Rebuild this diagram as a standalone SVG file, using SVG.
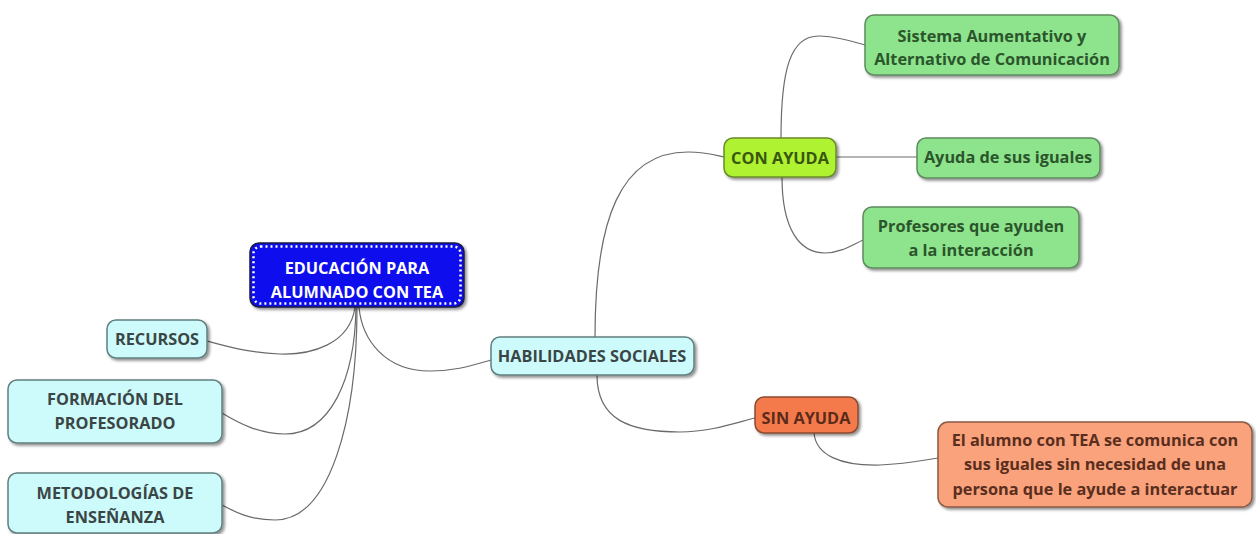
<svg xmlns="http://www.w3.org/2000/svg" width="1256" height="534" viewBox="0 0 1256 534">
<defs>
<filter id="sh" x="-10%" y="-20%" width="130%" height="150%">
<feGaussianBlur in="SourceAlpha" stdDeviation="1.5"/>
<feOffset dx="2" dy="2" result="b"/>
<feComponentTransfer><feFuncA type="linear" slope="0.45"/></feComponentTransfer>
<feMerge><feMergeNode/><feMergeNode in="SourceGraphic"/></feMerge>
</filter>
</defs>
<style>
text{font-family:"Open Sans","Noto Sans","Liberation Sans",sans-serif;font-weight:bold;font-size:16.3px;text-anchor:middle}
.box{stroke-width:1.5;filter:url(#sh)}
.cyan rect{fill:#cdfafa;stroke:#627f7f}
.cyan text{fill:#3a4646}
.green rect{fill:#8de48d;stroke:#5f8a5f}
.green text{fill:#2c552c}
.lime rect{fill:#aef230;stroke:#6a8a2a}
.lime text{fill:#3a560e}
.orange rect{fill:#f57a4c;stroke:#8a4a30}
.orange text{fill:#5a2b1b}
.peach rect{fill:#f9a27c;stroke:#8a5a44}
.peach text{fill:#5a2e1e}
.conn path{fill:none;stroke:#6a6a6a;stroke-width:1.2}
</style>
<rect width="1256" height="534" fill="#ffffff"/>
<g class="conn">
<path d="M355,307 C350,345 310,355 280,354 C250,353 225,346 207,341"/>
<path d="M356,307 C355,380 330,434 285,434 C260,434 240,424 222,413"/>
<path d="M357,307 C357,420 330,520 275,520 C250,520 235,512 222,505"/>
<path d="M359,307 C362,340 385,371 430,371 C455,371 470,366 491,360"/>
<path d="M595,337 C595,220 620,152 688,152 C705,152 715,155 724,157"/>
<path d="M597,375 C597,420 630,432 680,432 C710,432 735,423 755,418"/>
<path d="M781,138 C781,70 790,35 820,36 C840,37 855,42 865,45"/>
<path d="M836,157 L917,157"/>
<path d="M782,177 C782,230 800,253 825,253 C840,253 852,245 863,240"/>
<path d="M814,433 C816,455 840,466 880,465 C905,464 925,460 938,458"/>
</g>
<g id="central">
<rect x="250" y="243" width="214" height="64" rx="9" fill="#0a0aee" stroke="#1a1a40" stroke-width="1.5" filter="url(#sh)"/>
<rect x="253.5" y="246.5" width="207" height="57" rx="7" fill="none" stroke="#ffffff" stroke-width="2.5" stroke-dasharray="2 3"/>
<text x="357" y="274" fill="#ffffff">EDUCACIÓN PARA</text>
<text x="357" y="298" fill="#ffffff">ALUMNADO CON TEA</text>
</g>
<g id="recursos" class="cyan">
<rect class="box" x="107" y="320" width="100" height="38" rx="9"/>
<text x="157" y="345">RECURSOS</text>
</g>
<g id="formacion" class="cyan">
<rect class="box" x="8" y="380" width="214" height="63" rx="9"/>
<text x="115" y="405">FORMACIÓN DEL</text>
<text x="115" y="429">PROFESORADO</text>
</g>
<g id="metodologias" class="cyan">
<rect class="box" x="8" y="473" width="214" height="60" rx="9"/>
<text x="115" y="499">METODOLOGÍAS DE</text>
<text x="115" y="523">ENSEÑANZA</text>
</g>
<g id="habilidades" class="cyan">
<rect class="box" x="491" y="337" width="203" height="38" rx="9"/>
<text x="592" y="362">HABILIDADES SOCIALES</text>
</g>
<g id="con-ayuda" class="lime">
<rect class="box" x="724" y="138" width="112" height="39" rx="9"/>
<text x="780" y="164">CON AYUDA</text>
</g>
<g id="sistema" class="green">
<rect class="box" x="865" y="15" width="254" height="60" rx="9"/>
<text x="992" y="42">Sistema Aumentativo y</text>
<text x="992" y="65">Alternativo de Comunicación</text>
</g>
<g id="ayuda-iguales" class="green">
<rect class="box" x="917" y="138" width="183" height="40" rx="9"/>
<text x="1008" y="163">Ayuda de sus iguales</text>
</g>
<g id="profesores" class="green">
<rect class="box" x="863" y="207" width="216" height="61" rx="9"/>
<text x="971" y="232">Profesores que ayuden</text>
<text x="971" y="256">a la interacción</text>
</g>
<g id="sin-ayuda" class="orange">
<rect class="box" x="755" y="397" width="103" height="36" rx="9"/>
<text x="806" y="424">SIN AYUDA</text>
</g>
<g id="alumno" class="peach">
<rect class="box" x="938" y="422" width="314" height="85" rx="10"/>
<text x="1095" y="446">El alumno con TEA se comunica con</text>
<text x="1095" y="470">sus iguales sin necesidad de una</text>
<text x="1095" y="495">persona que le ayude a interactuar</text>
</g>
</svg>
